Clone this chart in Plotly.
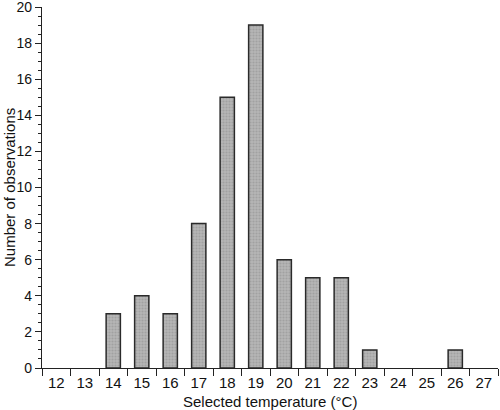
import plotly.graph_objects as go

categories = ["12", "13", "14", "15", "16", "17", "18", "19", "20", "21", "22", "23", "24", "25", "26", "27"]
counts = [0, 0, 3, 4, 3, 8, 15, 19, 6, 5, 5, 1, 0, 0, 1, 0]
y_ticks = [0, 2, 4, 6, 8, 10, 12, 14, 16, 18, 20]

font_family = "Liberation Sans, Arial, Helvetica, sans-serif"

# empty categories draw no bar outline at zero
bar_values = [c if c > 0 else None for c in counts]

fig = go.Figure()
fig.add_trace(go.Bar(
    x=categories,
    y=bar_values,
    width=0.5,
    marker=dict(
        color="#acacac",
        line=dict(color="#2a2a2a", width=1.5),
        pattern=dict(shape=".", fgcolor="#8c8c8c", bgcolor="#b6b6b6", size=3, solidity=0.4),
    ),
    hoverinfo="x+y",
))

fig.update_layout(
    width=500, height=410,
    margin=dict(l=42, r=2, t=7, b=42),
    paper_bgcolor="white", plot_bgcolor="white",
    showlegend=False,
    font=dict(family=font_family, size=15, color="#111"),
    annotations=[
        dict(text="Selected temperature (°C)", xref="paper", yref="paper",
             x=0.5, y=0, yshift=-23, xanchor="center", yanchor="top",
             showarrow=False, font=dict(size=15)),
        dict(text="Number of observations", xref="paper", yref="paper",
             x=0, y=0.5, xshift=-43, xanchor="left", yanchor="middle",
             textangle=-90, showarrow=False, font=dict(size=15)),
    ],
)
fig.update_xaxes(
    type="category",
    range=[-0.5, 15.5],
    tickson="boundaries",
    ticks="outside", ticklen=7, tickcolor="#222", tickwidth=1.2,
    showline=True, linecolor="#222", linewidth=1.2,
    showgrid=False, zeroline=False, automargin=False,
    ticklabeloverflow="allow", ticklabelstandoff=1,
    tickfont=dict(size=15),
)
fig.update_yaxes(
    range=[0, 20],
    tickvals=y_ticks,
    ticks="outside", ticklen=6, tickcolor="#222", tickwidth=1.2,
    minor=dict(dtick=0.5, ticks="outside", ticklen=3, tickcolor="#222", tickwidth=1),
    showline=True, linecolor="#222", linewidth=1.2,
    showgrid=False, zeroline=False, automargin=False,
    ticklabeloverflow="allow",
    tickfont=dict(size=14),
)

fig.write_html(
    "out.html",
    config={"displayModeBar": False},
    post_script="document.body.style.margin='0';document.body.style.padding='0';document.body.style.overflow='hidden';",
)
